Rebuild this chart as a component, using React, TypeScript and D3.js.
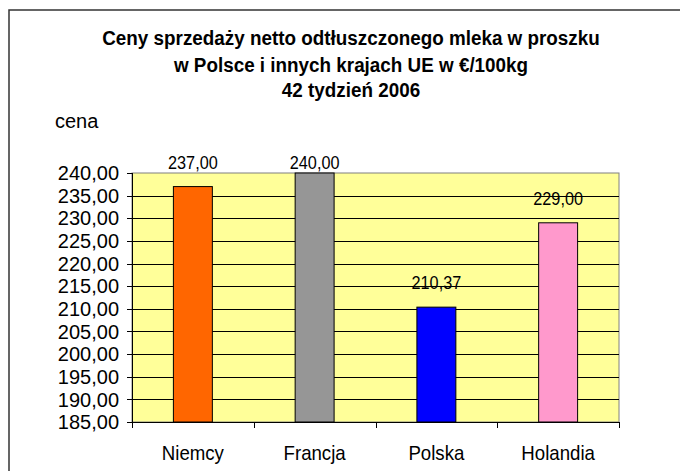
import React from 'react';
import * as d3 from 'd3';

const categories = ['Niemcy', 'Francja', 'Polska', 'Holandia'];
const values = [237.0, 240.0, 210.37, 229.0];
const barColors = ['#FF6600', '#969696', '#0000FF', '#FF99CC'];
const yTicks = [185, 190, 195, 200, 205, 210, 215, 220, 225, 230, 235, 240];
const titleLines = [
  'Ceny sprzedaży netto odtłuszczonego mleka w proszku',
  'w Polsce i innych krajach UE w €/100kg',
  '42 tydzień 2006',
];
const yAxisLabel = 'cena';

const W = 680;
const H = 471;
const plot = { left: 132, right: 619, top: 173, bottom: 422 };
const FONT = '"Liberation Sans", Arial, Helvetica, sans-serif';

const fmt = (v: number) => d3.format('.2f')(v).replace('.', ',');

type TProps = {
  x: number;
  y: number;
  sx?: number;
  size: number;
  anchor?: 'start' | 'middle' | 'end';
  bold?: boolean;
  dy?: string;
  children: React.ReactNode;
};

function T({ x, y, sx = 1, size, anchor = 'start', bold, dy, children }: TProps) {
  return (
    <text
      transform={`translate(${x},${y}) scale(${sx},1)`}
      textAnchor={anchor}
      fontSize={size}
      fontWeight={bold ? 'bold' : 'normal'}
      dy={dy}
      fill="#000"
    >
      {children}
    </text>
  );
}

export default function App() {
  const x = d3
    .scaleBand<string>()
    .domain(categories)
    .range([plot.left, plot.right])
    .paddingInner(0.68)
    .paddingOuter(0.34);
  const y = d3.scaleLinear().domain([185, 240]).range([plot.bottom, plot.top]);
  const step = x.step();
  const bounds = d3.range(categories.length + 1).map((i) => plot.left + i * step);
  const topY = y(240);

  return (
    <svg
      width={W}
      height={H}
      style={{ position: 'absolute', left: 0, top: 0, background: '#fff' }}
      fontFamily={FONT}
    >
      {/* outer frame */}
      <rect x={9} y={10} width={700} height={500} fill="none" stroke="#333" strokeWidth={1.5} />

      {/* title */}
      {titleLines.map((t, i) => (
        <T key={i} x={351} y={[45, 72, 97][i]} sx={0.92} size={20.5} anchor="middle" bold>
          {t}
        </T>
      ))}

      <T x={55} y={128} size={20}>
        {yAxisLabel}
      </T>

      {/* plot background */}
      <rect
        x={plot.left}
        y={plot.top}
        width={plot.right - plot.left}
        height={plot.bottom - plot.top}
        fill="#FFFF99"
        stroke="#808080"
        strokeWidth={1}
      />

      {/* gridlines */}
      {yTicks
        .filter((t) => t !== 185 && t !== 240)
        .map((t) => (
          <line
            key={'g' + t}
            x1={plot.left}
            x2={plot.right}
            y1={Math.round(y(t)) + 0.5}
            y2={Math.round(y(t)) + 0.5}
            stroke="#000"
            strokeWidth={1}
          />
        ))}

      {/* bars */}
      {categories.map((c, i) => (
        <rect
          key={c}
          x={x(c)!}
          y={y(values[i])}
          width={x.bandwidth()}
          height={plot.bottom - y(values[i])}
          fill={barColors[i]}
          stroke="#000"
          strokeWidth={1}
        />
      ))}

      {/* axes */}
      <line x1={plot.left + 0.5} x2={plot.left + 0.5} y1={plot.top} y2={plot.bottom} stroke="#000" />
      <line x1={plot.left} x2={plot.right} y1={plot.bottom + 0.5} y2={plot.bottom + 0.5} stroke="#000" />

      {/* y ticks & labels */}
      {yTicks.map((t) => (
        <g key={'y' + t}>
          <line
            x1={plot.left - 5}
            x2={plot.left}
            y1={Math.round(y(t)) + 0.5}
            y2={Math.round(y(t)) + 0.5}
            stroke="#000"
          />
          <T x={119} y={y(t)} dy="0.36em" anchor="end" size={20}>
            {fmt(t)}
          </T>
        </g>
      ))}

      {/* x ticks */}
      {bounds.map((b, i) => (
        <line
          key={'xt' + i}
          x1={Math.round(b) + 0.5}
          x2={Math.round(b) + 0.5}
          y1={plot.bottom}
          y2={plot.bottom + 6}
          stroke="#000"
        />
      ))}

      {/* x labels */}
      {categories.map((c) => (
        <T key={'xl' + c} x={x(c)! + x.bandwidth() / 2} y={460} sx={0.91} size={20.5} anchor="middle">
          {c}
        </T>
      ))}

      {/* value labels */}
      {categories.map((c, i) => (
        <T
          key={'v' + c}
          x={x(c)! + x.bandwidth() / 2}
          y={Math.max(y(values[i]) - 18, topY - 4)}
          sx={0.93}
          size={17.5}
          anchor="middle"
        >
          {fmt(values[i])}
        </T>
      ))}
    </svg>
  );
}
